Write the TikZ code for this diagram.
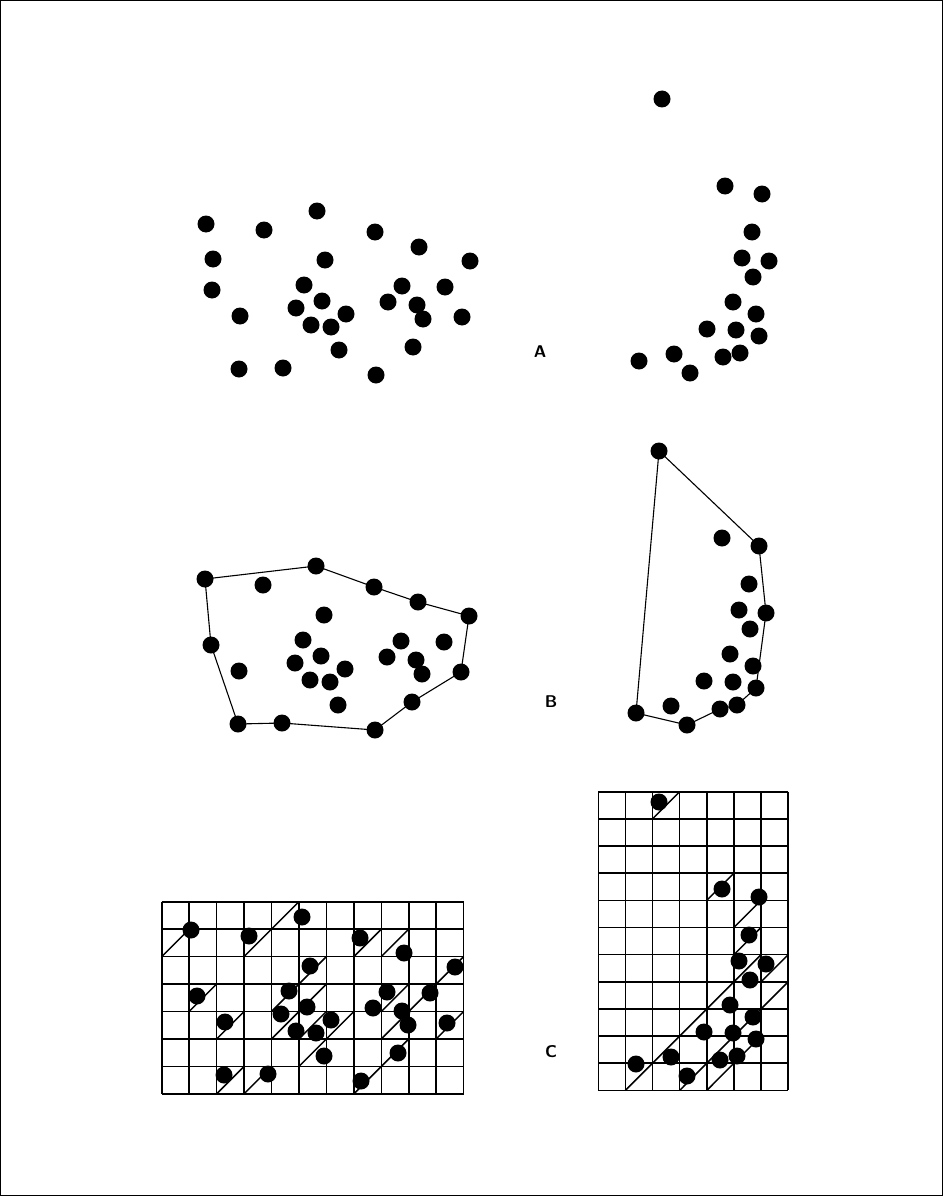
\documentclass[tikz,border=0pt]{standalone}
\usepackage{tikz}
\usetikzlibrary{scopes}

\tikzset{
  dot/.style={fill=black},
  hull/.style={line width=1.1pt},
  gridline/.style={line width=1.6pt},
  diag/.style={line width=1.5pt},
  lbl/.style={font=\sffamily\bfseries\fontsize{17}{17}\selectfont}
}
%% dot positions of the two clusters, in the frame of panel A
\newcommand{\leftpts}{206/224,264/230,317/211,375/232,419/247,470/261,325/260,
  212/290,304/285,322/301,296/308,311/325,331/327,346/314,388/302,402/286,
  417/305,445/287,423/319,462/317,240/316,339/350,413/347,239/369,283/368,376/375}
\newcommand{\rightpts}{662/99,725/186,762/194,752/232,742/258,769/261,753/277,
  733/302,756/314,707/329,736/330,759/336,639/361,674/354,690/373,723/357,740/353}

\begin{document}
\begin{tikzpicture}[x=1pt,y=-1pt]
		\useasboundingbox (0,0) rectangle (943,1196);
		\draw[line width=1pt] (0.5,0.5) rectangle (942.5,1195.5);
		%% A: the raw points
		\foreach \x/\y in \leftpts {\fill[dot] (\x,\y) circle (8.5);}
		\fill[dot] (213,259) circle (8.5); % only shown in A
		\foreach \x/\y in \rightpts {\fill[dot] (\x,\y) circle (8.5);}
		\node[lbl] (labA) at (540,352) {A};
		%% B: the points with their hull
		{[shift={(-1,355)}]
			\foreach \x/\y in \leftpts {\fill[dot] (\x,\y) circle (8.5);}
			\path
				(206,224) coordinate (l1)
				(317,211) coordinate (l2)
				(375,232) coordinate (l3)
				(419,247) coordinate (l4)
				(470,261) coordinate (l5)
				(462,317) coordinate (l6)
				(413,347) coordinate (l7)
				(376,375) coordinate (l8)
				(283,368) coordinate (l9)
				(239,369) coordinate (l10)
				(212,290) coordinate (l11);
			\draw[hull] (l1) -- (l2) -- (l3) -- (l4) -- (l5) -- (l6) -- (l7)
				-- (l8) -- (l9) -- (l10) -- (l11) -- cycle;
		}
		{[shift={(-3,352)}]
			\foreach \x/\y in \rightpts {\fill[dot] (\x,\y) circle (8.5);}
			\path
				(662,99)  coordinate (r1)
				(762,194) coordinate (r2)
				(769,261) coordinate (r3)
				(759,336) coordinate (r4)
				(740,353) coordinate (r5)
				(723,357) coordinate (r6)
				(690,373) coordinate (r7)
				(639,361) coordinate (r8);
			\draw[hull] (r1) -- (r2) -- (r3) -- (r4) -- (r5) -- (r6) -- (r7)
				-- (r8) -- cycle;
		}
		\node[lbl] (labB) at (551,702) {B};
		%% C: the points on a grid, cells crossed by a diagonal
		{[shift={(161.7,901.7)},x=27.45pt,y=-27.45pt]
			\foreach \i in {0,...,11} \draw[gridline] (\i,0) -- (\i,7);
			\foreach \j in {0,...,7} \draw[gridline] (0,\j) -- (11,\j);
			\foreach \a/\b/\c/\d in {0/2/1/1,3/2/5/0,7/2/8/1,8/2/9/1,4/4/6/2,
				1/4/2/3,4/5/6/3,8/4/9/3,8/5/11/2,2/5/3/4,5/6/7/4,5/5/6/4,
				10/5/11/4,7/7/9/5,2/7/3/6,3/7/4/6}
				\draw[diag] (\a,\b) -- (\c,\d);
		}
		{[shift={(-15,706)}]
			\foreach \x/\y in \leftpts {\fill[dot] (\x,\y) circle (8.5);}
		}
		{[shift={(598.3,791.7)},x=27.13pt,y=-27.15pt]
			\foreach \i in {0,...,7} \draw[gridline] (\i,0) -- (\i,11);
			\foreach \j in {0,...,11} \draw[gridline] (0,\j) -- (7,\j);
			\foreach \a/\b/\c/\d in {2/1/3/0,4/4/5/3,5/5/6/4,5/6/6/5,
				1/11/6/6,6/7/7/6,3/11/7/7,4/11/6/9}
				\draw[diag] (\a,\b) -- (\c,\d);
		}
		{[shift={(-3,703)}]
			\foreach \x/\y in \rightpts {\fill[dot] (\x,\y) circle (8.5);}
		}
		\node[lbl] (labC) at (551,1052) {C};
\end{tikzpicture}
\end{document}
